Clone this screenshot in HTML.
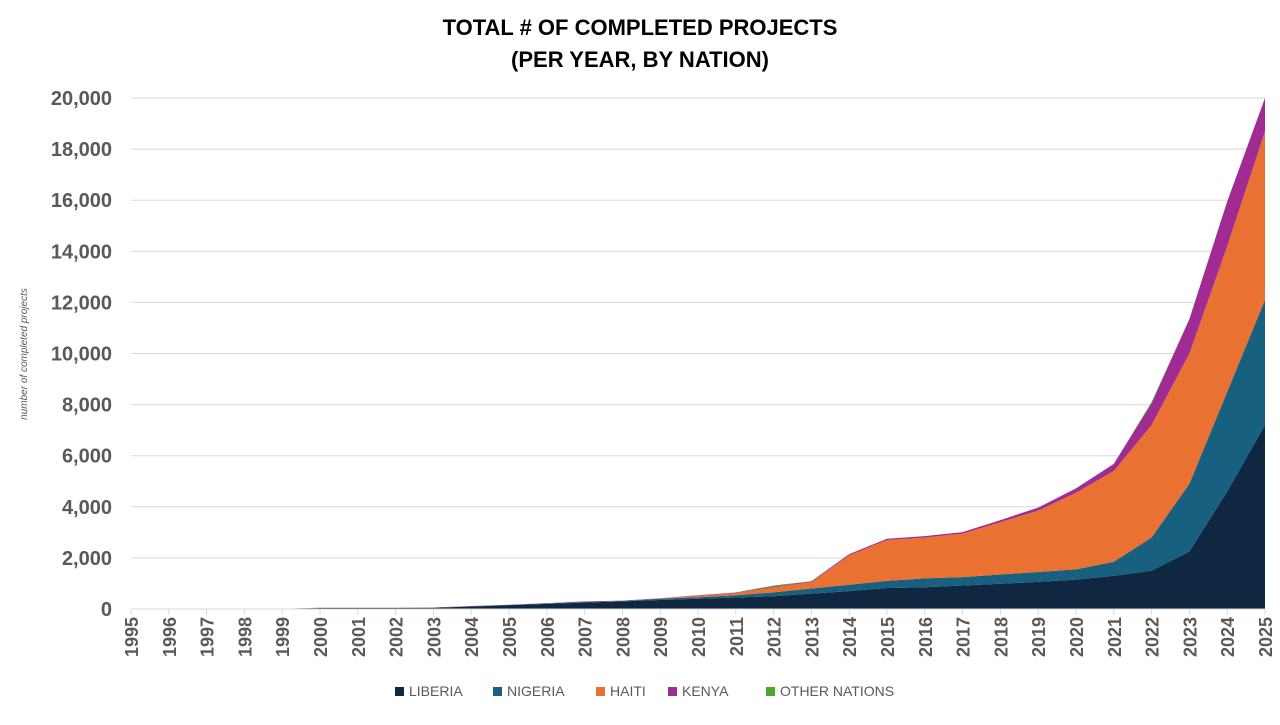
<!DOCTYPE html>
<html><head><meta charset="utf-8"><style>
body{margin:0;background:#fff;font-family:"Liberation Sans",Arial,sans-serif}
svg text{font-family:"Liberation Sans",Arial,sans-serif}
</style></head><body>
<svg id="c" width="1280" height="720">
<text x="640" y="35" text-anchor="middle" font-size="22" font-weight="bold" fill="#000">TOTAL # OF COMPLETED PROJECTS</text>
<text x="640" y="67" text-anchor="middle" font-size="22" font-weight="bold" fill="#000">(PER YEAR, BY NATION)</text>
<text transform="translate(27,354) rotate(-90)" text-anchor="middle" font-size="10" font-style="italic" fill="#595959">number of completed projects</text>
<g id="grid"></g><g id="areas"></g><g id="axes"></g><g id="legend"></g>
</svg>
<script>
const years=[];for(let y=1995;y<=2025;y++)years.push(y);
const liberia=[0,0,0,0,10,40,40,40,50,100,150,200,250,300,350,400,450,500,600,700,820,850,920,990,1060,1150,1300,1500,2250,4600,7200];
const nigeria=[0,0,0,0,0,5,5,5,5,10,10,20,30,20,50,60,90,150,200,250,280,350,330,360,390,400,550,1300,2650,3900,4900];
const haiti=[0,0,0,0,0,0,0,0,0,0,0,0,0,0,10,60,80,200,250,1150,1600,1600,1700,2050,2400,3000,3550,4400,5100,5700,6600];
const kenya=[0,0,0,0,0,5,5,5,5,5,5,10,20,10,10,20,20,30,30,50,50,50,60,80,120,170,280,850,1350,1750,1300];
const others=[0,0,0,0,0,0,0,0,0,0,0,0,0,0,0,0,10,40,10,0,0,0,0,0,0,0,0,50,0,0,0];
const yTicks=[0,2000,4000,6000,8000,10000,12000,14000,16000,18000,20000];
const seriesNames=["LIBERIA","NIGERIA","HAITI","KENYA","OTHER NATIONS"];
const colors=["#0f2740","#18607f","#e97132","#a02b93","#4ea72e"];
const ns="http://www.w3.org/2000/svg";
const X0=131,X1=1265,Y0=609,Y1=98,YMAX=20000;
const xs=i=>X0+(X1-X0)*i/(years.length-1);
const ys=v=>Y0-(Y0-Y1)*v/YMAX;
function mk(t,a,p){const e=document.createElementNS(ns,t);for(const k in a)e.setAttribute(k,a[k]);p.appendChild(e);return e;}
const grid=document.getElementById('grid');
yTicks.forEach(t=>{
 if(t>0){const l=mk('line',{x1:X0,x2:X1,y1:ys(t),y2:ys(t),stroke:'#d9d9d9','stroke-width':1},grid);
 
 }
 const tx=mk('text',{x:112,y:ys(t)+7,'text-anchor':'end','font-size':20,'font-weight':'bold',fill:'#595959'},grid);
 tx.textContent=t.toLocaleString('en-US');
 
 
});
const data=[liberia,nigeria,haiti,kenya,others];
const areas=document.getElementById('areas');
let base=years.map(()=>0);
data.forEach((s,k)=>{
 const top=base.map((b,i)=>b+s[i]);
 let d='M'+years.map((_,i)=>xs(i)+','+ys(top[i])).join('L');
 for(let i=years.length-1;i>=0;i--)d+='L'+xs(i)+','+ys(base[i]);
 const p=mk('path',{d:d+'Z',fill:colors[k]},areas);
 
 
 base=top;
});
const axes=document.getElementById('axes');
mk('line',{x1:X0,x2:X1,y1:Y0,y2:Y0,stroke:'#d9d9d9'},axes);
years.forEach((y,i)=>{
 mk('line',{x1:xs(i),x2:xs(i),y1:Y0,y2:Y0+6,stroke:'#d9d9d9'},axes);
 const t=mk('text',{transform:`translate(${xs(i)+7},${Y0+8}) rotate(-90)`,'text-anchor':'end','font-size':18,'font-weight':'bold',fill:'#595959'},axes);
 t.textContent=y;
 
 
});
const lg=document.getElementById('legend');
const lx=[395,493,596,668,766];
seriesNames.forEach((n,k)=>{
 const g=mk('g',{},lg);
 
 
 mk('rect',{x:lx[k],y:687,width:9,height:9,fill:colors[k]},g);
 const t=mk('text',{x:lx[k]+14,y:696,'font-size':14,fill:'#595959'},g);
 t.textContent=n;
});
</script>
</body></html>
